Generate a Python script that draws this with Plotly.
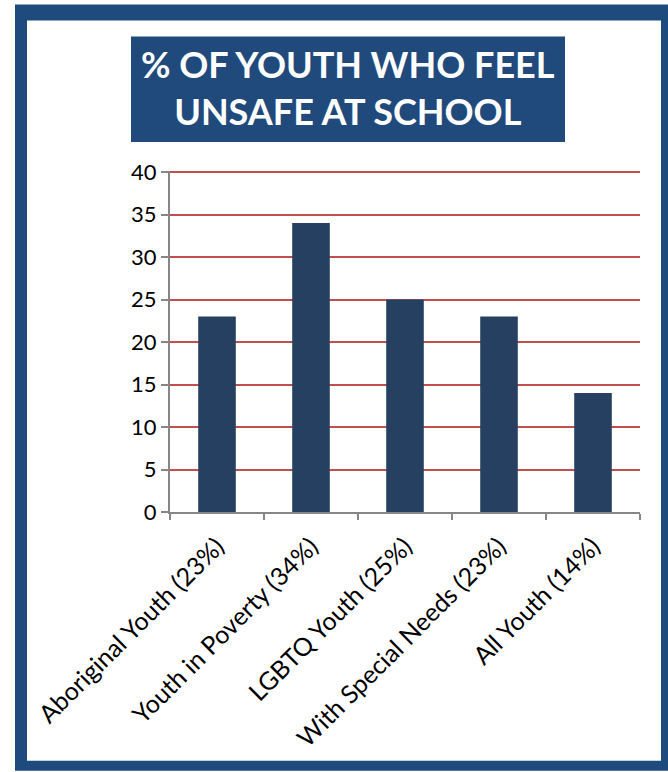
import plotly.graph_objects as go

categories = ["Aboriginal Youth (23%)", "Youth in Poverty (34%)", "LGBTQ Youth (25%)",
              "With Special Needs (23%)", "All Youth (14%)"]
values = [23, 34, 25, 23, 14]
y_ticks = [0, 5, 10, 15, 20, 25, 30, 35, 40]
title_lines = ["% OF YOUTH WHO FEEL", "UNSAFE AT SCHOOL"]

W, H = 668, 772
L, R, T, B = 170, 640, 172, 512

def px(x):
    return (x - L) / (R - L)

def py(y):
    return (B - y) / (B - T)

FONT = "Lato"

fig = go.Figure(go.Bar(x=categories, y=values, marker=dict(color="#264061", line=dict(width=0)),
                       width=0.4))

shapes = [
    dict(type="rect", xref="paper", yref="paper", x0=px(15), x1=px(668), y0=py(6), y1=py(770),
         fillcolor="#1F4A7D", line=dict(width=0), layer="below"),
    dict(type="rect", xref="paper", yref="paper", x0=px(27), x1=px(661), y0=py(22), y1=py(760),
         fillcolor="white", line=dict(width=0), layer="below"),
    dict(type="rect", xref="paper", yref="paper", x0=px(131), x1=px(565), y0=py(38), y1=py(143),
         fillcolor="#214A7C", line=dict(width=0), layer="below"),
]

fig.update_layout(
    width=W, height=H,
    margin=dict(l=L, r=W - R, t=T - 1, b=H - B),
    paper_bgcolor="white", plot_bgcolor="rgba(0,0,0,0)",
    showlegend=False,
    shapes=shapes,
    annotations=[dict(xref="paper", yref="paper", x=px(348), y=py(89), xanchor="center", yanchor="middle",
                      text="<b>" + "<br>".join(title_lines) + "</b>", showarrow=False,
                      font=dict(family=FONT, size=36, color="white"))],
    bargap=0.6,
)
fig.update_yaxes(range=[0, 40.12], tickvals=y_ticks, showgrid=True, gridcolor="#C0504D", gridwidth=2,
                 zeroline=False, showline=True, linecolor="#868686", linewidth=2,
                 ticks="outside", ticklen=7, tickcolor="#868686", tickwidth=2,
                 tickfont=dict(family=FONT, size=22, color="black"))
fig.update_xaxes(showline=True, linecolor="#868686", linewidth=2, ticks="outside", tickson="boundaries",
                 ticklen=6, tickcolor="#868686", tickwidth=2, tickangle=-45, showgrid=False,
                 ticklabelstandoff=8,
                 tickfont=dict(family=FONT, size=25, color="black"))

fig.write_html("out.html")
